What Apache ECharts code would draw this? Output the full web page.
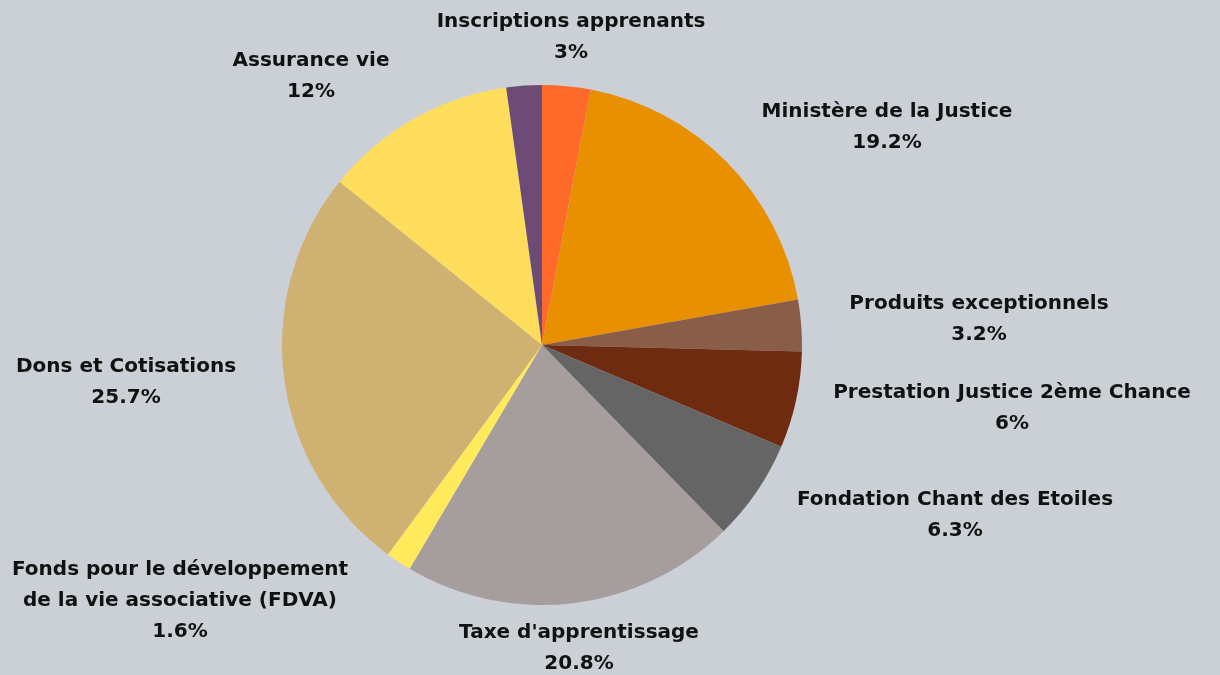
<!DOCTYPE html>
<html>
<head>
<meta charset="utf-8">
<script src="https://cdn.jsdelivr.net/npm/echarts@6/dist/echarts.min.js"></script>
<style>
  html, body { margin: 0; padding: 0; background: #cbd0d6; }
  #chart { width: 1220px; height: 675px; }
</style>
</head>
<body>
<div id="chart"></div>
<script>
  // slices, clockwise from 12 o'clock
  const names = [
    'Inscriptions apprenants',
    'Ministère de la Justice',
    'Produits exceptionnels',
    'Prestation Justice 2ème Chance',
    'Fondation Chant des Etoiles',
    "Taxe d'apprentissage",
    'Fonds pour le développement\nde la vie associative (FDVA)',
    'Dons et Cotisations',
    'Assurance vie',
    ''
  ];
  const values = [3, 19.2, 3.2, 6, 6.3, 20.8, 1.6, 25.7, 12, 2.2];
  const colors = ['#fe6a2a', '#e99000', '#8a5d48', '#6e2b10', '#656565', '#a69e9d', '#ffea5c', '#cfb272', '#ffdd5c', '#6c4b77'];
  // label centres (px)
  const labelPos = [
    [571, 37], [887, 127], [979, 319], [1012, 408], [955, 515],
    [579, 648], [180, 601], [126, 382], [311, 76], null
  ];

  const chart = echarts.init(document.getElementById('chart'));
  chart.setOption({
    backgroundColor: '#cbd0d6',
    animation: false,
    series: [{
      type: 'pie',
      center: [542, 345],
      radius: 260,
      startAngle: 90,
      clockwise: true,
      label: {
        show: true,
        position: 'outside',
        formatter: '{b}\n{c}%',
        fontFamily: 'DejaVu Sans',
        fontWeight: 'bold',
        fontSize: 20,
        lineHeight: 31,
        color: '#111111',
        align: 'center'
      },
      labelLine: { show: false },
      labelLayout: function (p) {
        const pos = labelPos[p.dataIndex];
        if (!pos) return {};
        return { x: pos[0], y: pos[1], align: 'center', verticalAlign: 'middle' };
      },
      data: names.map(function (n, i) {
        const d = { name: n, value: values[i], itemStyle: { color: colors[i] } };
        if (!n) d.label = { show: false };
        return d;
      })
    }]
  });
</script>
</body>
</html>
